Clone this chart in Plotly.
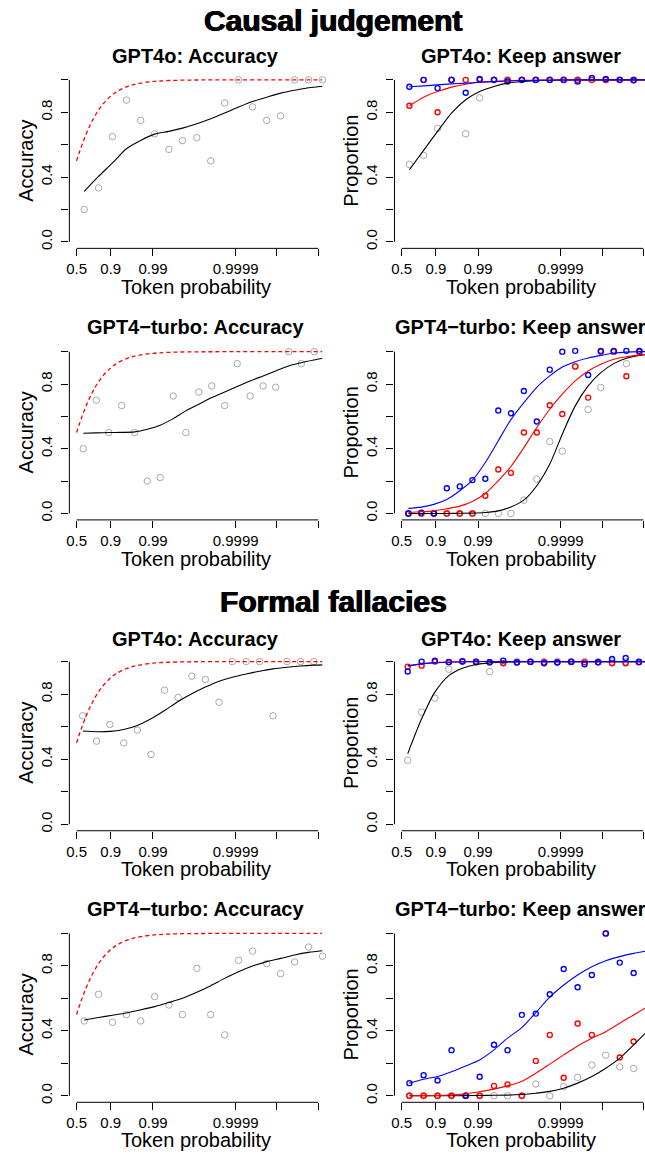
import numpy as np
import plotly.graph_objects as go

W, H = 645, 1157
FONT = "Liberation Sans, Arial, Helvetica, sans-serif"

# ---------------- axis ticks ----------------
tick_probs = [0.5, 0.9, 0.99, 0.9999, 0.99999, 0.999999]
tick_labels = ["0.5", "0.9", "0.99", "0.9999", "", ""]
y_ticks = [0.0, 0.2, 0.4, 0.6, 0.8, 1.0]
y_tick_labels = ["0.0", "", "0.4", "", "0.8", ""]


def to_axis(p):
    p = np.asarray(p, dtype=float)
    return np.log10(1.0 / (1.0 - p) - 0.6)


# perfect-calibration reference (accuracy == token probability)
calib_p = [0.5, 0.55, 0.6, 0.65, 0.7, 0.75, 0.8, 0.85, 0.9, 0.92, 0.94, 0.96, 0.97,
           0.98, 0.99, 0.993, 0.996, 0.998, 0.999, 0.9995, 0.9999, 0.99999,
           0.999999, 0.9999992]

# ---------------- bin centres (axis scale) ----------------
bins_a = [0.333, 0.678, 1.016, 1.354, 1.698, 2.036, 2.383, 2.711, 3.058, 3.396,
          3.734, 4.071, 4.409, 4.753, 5.091, 5.429, 5.766, 6.104]
bins_b = [0.309, 0.623, 0.927, 1.240, 1.554, 1.860, 2.173, 2.487, 2.793, 3.107,
          3.420, 3.734, 4.037, 4.351, 4.664, 4.970, 5.284, 5.590, 5.904]
bins_c = [0.293, 0.630, 0.951, 1.288, 1.619, 1.949, 2.277, 2.607, 2.938, 3.266,
          3.596, 3.917, 4.254, 4.577, 4.905, 5.243, 5.573, 5.894]
curve_end = [6.104]

# ---------------- Causal judgement ----------------
cj_4o_acc_pts = [0.2, 0.333, 0.65, 0.875, 0.75, 0.667, 0.571, 0.625, 0.643, 0.5,
                 0.857, 1.0, 0.833, 0.75, 0.778, 1.0, 1.0, 1.0]
cj_4o_acc_fit = [0.312, 0.404, 0.487, 0.575, 0.626, 0.665, 0.682, 0.702, 0.729, 0.76,
                 0.795, 0.832, 0.866, 0.893, 0.918, 0.936, 0.951, 0.961]

cj_4o_keep_gray = [0.478, 0.534, 0.70, 1.0, 0.667, 0.889, 1, 1, 1, 1, 1, 1, 1, 1, 1, 1, 1, 1]
cj_4o_keep_red = [0.84, 1.0, 0.80, 1.0, 1.0, 1.0, 1.0, 1.0, 1.0, 1.0, 1.0, 1.0, 1.0,
                  1.0, 1.0, 1.0, 1.0, 1.0]
cj_4o_keep_blue = [0.957, 1.0, 0.949, 1.0, 0.92, 1.005, 1.0, 0.99, 1.0, 1.0, 1.0, 1.0,
                   0.99, 1.012, 1.005, 1.0, 0.998, 1.0]
cj_4o_keep_fit_gray = [0.445, 0.565, 0.682, 0.795, 0.877, 0.928, 0.959, 0.980, 0.990,
                       0.995, 0.998, 0.999, 1, 1, 1, 1, 1, 1]
cj_4o_keep_fit_red = [0.84, 0.893, 0.928, 0.955, 0.973, 0.985, 0.99, 0.994, 0.997,
                      0.998, 0.999, 1, 1, 1, 1, 1, 1, 1]
cj_4o_keep_fit_blue = [0.957, 0.963, 0.969, 0.975, 0.98, 0.985, 0.99, 0.993, 0.995,
                       0.997, 0.998, 0.999, 1, 1, 1, 1, 1, 1]

cj_tb_acc_pts = [0.4, 0.7, 0.5, 0.667, 0.5, 0.2, 0.222, 0.726, 0.5, 0.75, 0.788, 0.667,
                 0.926, 0.726, 0.788, 0.78, 1.0, 0.926, 1.0]
cj_tb_acc_fit = [0.496, 0.498, 0.5, 0.501, 0.504, 0.52, 0.545, 0.586, 0.634, 0.675,
                 0.716, 0.751, 0.784, 0.819, 0.85, 0.881, 0.912, 0.932, 0.949, 0.959]

cj_tb_keep_gray = [0, 0, 0, 0, 0, 0, 0, 0, 0, 0.082, 0.212, 0.444, 0.385, 0.909, 0.642,
                   0.778, 1.0, 0.926, 1.0]
cj_tb_keep_red = [0, 0, 0, 0, 0, 0, 0.109, 0.272, 0.251, 0.5, 0.5, 0.669, 0.615, 0.909,
                  0.716, 1.0, 1.0, 0.848, 1.0]
cj_tb_keep_blue = [0, 0.005, 0, 0.156, 0.167, 0.206, 0.214, 0.636, 0.619, 0.757, 0.568,
                   0.889, 1.0, 1.005, 0.856, 1.005, 1.005, 1.005, 1.005]
cj_tb_keep_fit_gray = [0, 0, 0, 0, 0.001, 0.002, 0.006, 0.016, 0.04, 0.082, 0.171, 0.305,
                       0.49, 0.665, 0.788, 0.87, 0.926, 0.959, 0.977, 0.984]
cj_tb_keep_fit_red = [0.006, 0.01, 0.016, 0.029, 0.045, 0.074, 0.123, 0.202, 0.29, 0.407,
                      0.531, 0.644, 0.737, 0.819, 0.881, 0.922, 0.953, 0.969, 0.979, 0.984]
cj_tb_keep_fit_blue = [0.031, 0.039, 0.056, 0.086, 0.14, 0.206, 0.315, 0.449, 0.58, 0.685,
                       0.78, 0.85, 0.905, 0.938, 0.961, 0.977, 0.99, 0.997, 1.0, 1.0]

# ---------------- Formal fallacies ----------------
ff_4o_acc_pts = [0.667, 0.511, 0.613, 0.5, 0.579, 0.429, 0.824, 0.779, 0.91, 0.89, 0.75,
                 1.0, 1.0, 1.0, 0.667, 1.0, 1.0, 1.0]
ff_4o_acc_fit = [0.573, 0.569, 0.571, 0.583, 0.607, 0.648, 0.699, 0.755, 0.802, 0.843,
                 0.879, 0.904, 0.924, 0.941, 0.955, 0.965, 0.973, 0.978, 0.98]

ff_4o_keep_gray = [0.393, 0.689, 0.775, 0.953, 1, 1, 0.939, 1, 1, 1, 1, 1, 1, 1, 1, 1, 1, 1]
ff_4o_keep_red = [0.969, 0.975, 1.0, 0.996, 1.0, 1.0, 0.996, 0.99, 0.996, 1.0, 0.996,
                  0.996, 1.0, 0.996, 0.996, 0.99, 0.99, 0.996]
ff_4o_keep_blue = [0.939, 1.0, 1.006, 0.998, 1.002, 0.996, 0.996, 1.006, 0.994, 0.998,
                   0.99, 0.994, 0.998, 0.984, 0.996, 1.016, 1.022, 0.998]
ff_4o_keep_fit_gray = [0.434, 0.648, 0.812, 0.914, 0.959, 0.982, 0.992, 0.996, 0.998, 1,
                       1, 1, 1, 1, 1, 1, 1, 1, 1]
ff_4o_keep_fit_red = [0.971, 0.986, 0.994, 0.997, 0.999, 1, 1, 1, 1, 1, 1, 1, 1, 1, 1,
                      1, 1, 1, 1]
ff_4o_keep_fit_blue = [0.975, 0.986, 0.992, 0.996, 0.998, 1, 1, 1, 1, 1, 1, 1, 1, 1, 1,
                       1, 1, 1, 1]

ff_tb_acc_pts = [0.461, 0.625, 0.453, 0.5, 0.461, 0.611, 0.559, 0.5, 0.785, 0.5, 0.375,
                 0.834, 0.891, 0.814, 0.752, 0.824, 0.916, 0.859]
ff_tb_acc_fit = [0.467, 0.482, 0.496, 0.51, 0.529, 0.549, 0.574, 0.6, 0.637, 0.678,
                 0.723, 0.764, 0.799, 0.826, 0.846, 0.867, 0.883, 0.893]

ff_tb_keep_gray = [0, 0, 0, 0, 0, 0, 0, 0, 0, 0.072, 0, 0.057, 0.113, 0.189, 0.25,
                   0.178, 0.168, 0.144]
ff_tb_keep_red = [0, 0, 0, 0, 0, 0, 0.061, 0.07, 0, 0.215, 0.375, 0.111, 0.445, 0.375,
                  1.0, 0.236, 0.334, 0.4]
ff_tb_keep_blue = [0.078, 0.127, 0.094, 0.281, 0.0, 0.117, 0.314, 0.281, 0.498, 0.506,
                   0.625, 0.781, 0.668, 0.744, 1.0, 0.82, 0.756, 0.85]
ff_tb_keep_fit_gray = [0, 0, 0, 0, 0.001, 0.002, 0.003, 0.004, 0.008, 0.016, 0.027,
                       0.047, 0.078, 0.119, 0.17, 0.232, 0.314, 0.40]
ff_tb_keep_fit_red = [0.0, 0.001, 0.002, 0.006, 0.012, 0.025, 0.041, 0.061, 0.09, 0.139,
                      0.195, 0.252, 0.307, 0.355, 0.395, 0.447, 0.498, 0.55]
ff_tb_keep_fit_blue = [0.078, 0.102, 0.119, 0.148, 0.184, 0.221, 0.283, 0.355, 0.42,
                       0.512, 0.607, 0.682, 0.744, 0.795, 0.832, 0.857, 0.877, 0.893]

# ---------------- styles / layout ----------------
GRAY = "#A8A8A8"
RED = "#FF0000"
BLUE = "#0000FF"

col_px = {0: (66.7, 321.0), 1: (393.3, 645.0)}
col_range = {0: [-0.028, 6.104], 1: [-0.028, 6.041]}
col_center = {0: 193.9, 1: 520.4}
row_px = {0: (73.5, 248.8), 1: (345.8, 520.8), 2: (656.2, 832.2), 3: (928.5, 1104.2)}
title_y = {0: 55.7, 1: 327.5, 2: 639.7, 3: 910.8}
xlab_y = {0: 287.5, 1: 559.8, 2: 870.5, 3: 1142.2}
ylab_x = {0: 23.0, 1: 349.6}

panels = [
    dict(row=0, col=0, title="GPT4o: Accuracy", ylab="Accuracy", calib=True,
         pts=[(bins_a, cj_4o_acc_pts, "gray")],
         fits=[(bins_a, cj_4o_acc_fit, "black")]),
    dict(row=0, col=1, title="GPT4o: Keep answer", ylab="Proportion", calib=False,
         pts=[(bins_a, cj_4o_keep_gray, "gray"), (bins_a, cj_4o_keep_red, "red"),
              (bins_a, cj_4o_keep_blue, "blue")],
         fits=[(bins_a, cj_4o_keep_fit_gray, "black"), (bins_a, cj_4o_keep_fit_red, "red"),
               (bins_a, cj_4o_keep_fit_blue, "blue")]),
    dict(row=1, col=0, title="GPT4\u2212turbo: Accuracy", ylab="Accuracy", calib=True,
         pts=[(bins_b, cj_tb_acc_pts, "gray")],
         fits=[(bins_b + curve_end, cj_tb_acc_fit, "black")]),
    dict(row=1, col=1, title="GPT4\u2212turbo: Keep answer", ylab="Proportion", calib=False,
         pts=[(bins_b, cj_tb_keep_gray, "gray"), (bins_b, cj_tb_keep_red, "red"),
              (bins_b, cj_tb_keep_blue, "blue")],
         fits=[(bins_b + curve_end, cj_tb_keep_fit_gray, "black"),
               (bins_b + curve_end, cj_tb_keep_fit_red, "red"),
               (bins_b + curve_end, cj_tb_keep_fit_blue, "blue")]),
    dict(row=2, col=0, title="GPT4o: Accuracy", ylab="Accuracy", calib=True,
         pts=[(bins_c, ff_4o_acc_pts, "gray")],
         fits=[(bins_c + curve_end, ff_4o_acc_fit, "black")]),
    dict(row=2, col=1, title="GPT4o: Keep answer", ylab="Proportion", calib=False,
         pts=[(bins_c, ff_4o_keep_gray, "gray"), (bins_c, ff_4o_keep_red, "red"),
              (bins_c, ff_4o_keep_blue, "blue")],
         fits=[(bins_c + curve_end, ff_4o_keep_fit_gray, "black"),
               (bins_c + curve_end, ff_4o_keep_fit_red, "red"),
               (bins_c + curve_end, ff_4o_keep_fit_blue, "blue")]),
    dict(row=3, col=0, title="GPT4\u2212turbo: Accuracy", ylab="Accuracy", calib=True,
         pts=[(bins_a, ff_tb_acc_pts, "gray")],
         fits=[(bins_a, ff_tb_acc_fit, "black")]),
    dict(row=3, col=1, title="GPT4\u2212turbo: Keep answer", ylab="Proportion", calib=False,
         pts=[(bins_a, ff_tb_keep_gray, "gray"), (bins_a, ff_tb_keep_red, "red"),
              (bins_a, ff_tb_keep_blue, "blue")],
         fits=[(bins_a, ff_tb_keep_fit_gray, "black"), (bins_a, ff_tb_keep_fit_red, "red"),
               (bins_a, ff_tb_keep_fit_blue, "blue")]),
]

point_style = {
    "gray": dict(color=GRAY, size=6.5, line=dict(width=1, color=GRAY)),
    "red": dict(color=RED, size=5, line=dict(width=1.4, color=RED)),
    "blue": dict(color=BLUE, size=5, line=dict(width=1.4, color=BLUE)),
}
line_color = {"black": "#000000", "red": RED, "blue": BLUE}

fig = go.Figure()
annotations = []
shapes = []
tick_pos = to_axis(tick_probs)

for i, pnl in enumerate(panels):
    n = "" if i == 0 else str(i + 1)
    xa, ya = "x" + n, "y" + n
    r, c = pnl["row"], pnl["col"]
    x0, x1 = col_px[c]
    top, bot = row_px[r]

    fig.update_layout(**{
        "xaxis" + n: dict(domain=[x0 / W, x1 / W], range=col_range[c], anchor=ya,
                          showgrid=False, zeroline=False, showline=False,
                          ticks="outside", ticklen=7, tickwidth=1, tickcolor="black",
                          tickmode="array", tickvals=list(tick_pos), ticktext=tick_labels,
                          tickfont=dict(family=FONT, size=15, color="black"),
                          ticklabelstandoff=0, fixedrange=True),
        "yaxis" + n: dict(domain=[1 - bot / H, 1 - top / H], range=[-0.04, 1.04], anchor=xa,
                          showgrid=False, zeroline=False, showline=False,
                          ticks="outside", ticklen=7, tickwidth=1, tickcolor="black",
                          tickmode="array", tickvals=y_ticks, ticktext=y_tick_labels,
                          tickangle=-90,
                          tickfont=dict(family=FONT, size=15, color="black"),
                          ticklabelstandoff=3, fixedrange=True),
    })

    # axis lines spanning only the tick range (R style)
    shapes.append(dict(type="line", xref=xa, yref=ya + " domain",
                       x0=float(tick_pos[0]), x1=float(tick_pos[-1]), y0=0, y1=0,
                       line=dict(color="black", width=1)))
    shapes.append(dict(type="line", xref=xa + " domain", yref=ya,
                       x0=0, x1=0, y0=y_ticks[0], y1=y_ticks[-1],
                       line=dict(color="black", width=1)))

    for xs, ys, col in pnl["pts"]:
        fig.add_trace(go.Scatter(x=xs[:len(ys)], y=ys, mode="markers", xaxis=xa, yaxis=ya,
                                 marker=dict(symbol="circle-open", **point_style[col]),
                                 cliponaxis=False, showlegend=False, hoverinfo="skip"))
    for xs, ys, col in pnl["fits"]:
        fig.add_trace(go.Scatter(x=xs[:len(ys)], y=ys, mode="lines", xaxis=xa, yaxis=ya,
                                 line=dict(color=line_color[col], width=1.1, shape="spline",
                                           smoothing=0.8),
                                 showlegend=False, hoverinfo="skip"))
    if pnl["calib"]:
        fig.add_trace(go.Scatter(x=list(to_axis(calib_p)), y=calib_p, mode="lines",
                                 xaxis=xa, yaxis=ya,
                                 line=dict(color=RED, width=1.3, dash="4px,3px",
                                           shape="spline"),
                                 showlegend=False, hoverinfo="skip"))

    annotations.append(dict(text="<b>" + pnl["title"] + "</b>", x=col_center[c] / W,
                            y=1 - title_y[r] / H, xref="paper", yref="paper",
                            xanchor="center", yanchor="middle", showarrow=False,
                            font=dict(family=FONT, size=20, color="black")))
    annotations.append(dict(text="Token probability", x=col_center[c] / W,
                            y=1 - xlab_y[r] / H, xref="paper", yref="paper",
                            xanchor="center", yanchor="middle", showarrow=False,
                            font=dict(family=FONT, size=20, color="black")))
    annotations.append(dict(text=pnl["ylab"], x=ylab_x[c] / W,
                            y=1 - ((top + bot) / 2) / H, xref="paper", yref="paper",
                            xanchor="center", yanchor="middle", showarrow=False,
                            textangle=-90,
                            font=dict(family=FONT, size=20, color="black")))

for text, ypx in [("Causal judgement", 20.5), ("Formal fallacies", 603.0)]:
    annotations.append(dict(text="<b>" + text + "</b>", x=332 / W, y=1 - ypx / H,
                            xref="paper", yref="paper", xanchor="center", yanchor="middle",
                            showarrow=False,
                            font=dict(family=FONT, size=30, color="black",
                                      shadow="0.6px 0 0 black, -0.6px 0 0 black")))

fig.update_layout(width=W, height=H, margin=dict(l=0, r=0, t=0, b=0),
                  paper_bgcolor="white", plot_bgcolor="white",
                  annotations=annotations, shapes=shapes,
                  font=dict(family=FONT, color="black"))

fig.write_html("out.html",
               config={"displayModeBar": False, "staticPlot": True},
               post_script="document.body.style.margin='0';"
                           "document.body.style.padding='0';"
                           "document.body.style.overflow='hidden';")
